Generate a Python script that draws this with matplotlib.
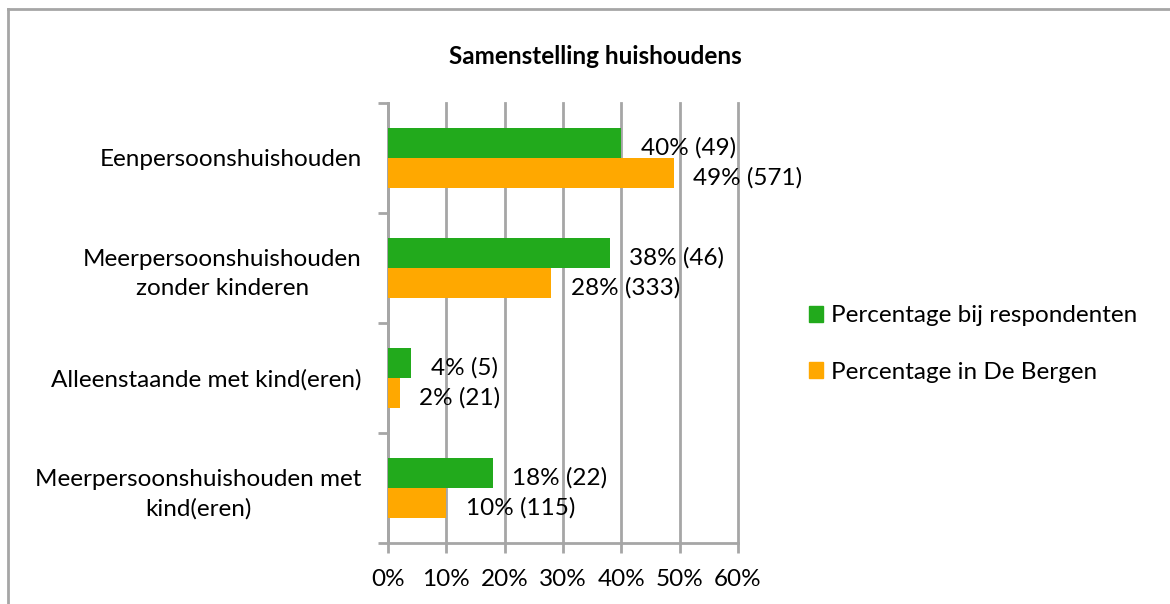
import numpy as np
import matplotlib.pyplot as plt
from matplotlib.lines import Line2D
from matplotlib.patches import Patch

categories = [
    "Eenpersoonshuishouden",
    "Meerpersoonshuishouden\nzonder kinderen",
    "Alleenstaande met kind(eren)",
    "Meerpersoonshuishouden met\nkind(eren)",
]
respondenten_pct = [40, 38, 4, 18]
respondenten_n = [49, 46, 5, 22]
bergen_pct = [49, 28, 2, 10]
bergen_n = [571, 333, 21, 115]
xticks = [0, 10, 20, 30, 40, 50, 60]

green = "#22AA1C"
orange = "#FFA800"
grid_col = "#A6A6A6"

plt.rcParams["font.family"] = ["Lato", "DejaVu Sans"]
fs = 17.5

fig = plt.figure(figsize=(11.70, 6.04), dpi=100)
ax = fig.add_axes([388 / 1170, 1 - 543 / 604, 350 / 1170, 440 / 604])

y = np.arange(len(categories))
h = 0.27
ax.barh(y - h / 2, respondenten_pct, height=h, color=green, zorder=3)
ax.barh(y + h / 2, bergen_pct, height=h, color=orange, zorder=3)

for yi, p, n in zip(y, respondenten_pct, respondenten_n):
    ax.annotate(f"{p}% ({n})", (p, yi - h / 2), xytext=(14, -3.5), textcoords="offset points",
                va="center", ha="left", fontsize=fs)
for yi, p, n in zip(y, bergen_pct, bergen_n):
    ax.annotate(f"{p}% ({n})", (p, yi + h / 2), xytext=(14, -3.5), textcoords="offset points",
                va="center", ha="left", fontsize=fs)

ax.set_xlim(0, 60)
ax.set_ylim(3.5, -0.5)
ax.set_xticks(xticks)
ax.set_xticklabels([f"{t}%" for t in xticks], fontsize=fs)
ax.xaxis.grid(True, color=grid_col, linewidth=2, zorder=0)
for gl in ax.get_xgridlines():
    gl.set_clip_on(False)

ax.set_yticks(np.arange(-0.5, 4, 1))
ax.set_yticklabels([])
ax.set_yticks(y, minor=True)
ax.set_yticklabels(categories, minor=True, fontsize=fs, ha="right", multialignment="center",
                   linespacing=1.45)
ax.tick_params(axis="y", which="minor", length=0, pad=19)
ax.tick_params(axis="y", which="major", length=7, width=2, color=grid_col)
ax.tick_params(axis="x", length=7, width=2, color=grid_col, pad=12)

for s in ["top", "right"]:
    ax.spines[s].set_visible(False)
for s in ["left", "bottom"]:
    ax.spines[s].set_color(grid_col)
    ax.spines[s].set_linewidth(2)

fig.text(595 / 1170, 1 - 56 / 604, "Samenstelling huishoudens", ha="center", va="center",
         fontsize=17.5, fontweight="bold")

handles = [Patch(color=green), Patch(color=orange)]
fig.legend(handles, ["Percentage bij respondenten", "Percentage in De Bergen"],
           loc="center left", bbox_to_anchor=(787 / 1170, 1 - 344 / 604), frameon=False,
           fontsize=fs, handlelength=0.6, handleheight=0.6, handletextpad=0.3, labelspacing=1.45)

# outer chart frame
fig.add_artist(Line2D([8 / 1170, 1], [1 - 9 / 604, 1 - 9 / 604], color=grid_col, lw=2, transform=fig.transFigure))
fig.add_artist(Line2D([8 / 1170, 8 / 1170], [0, 1 - 9 / 604], color=grid_col, lw=2, transform=fig.transFigure))

fig.savefig("out.png", dpi=100)
